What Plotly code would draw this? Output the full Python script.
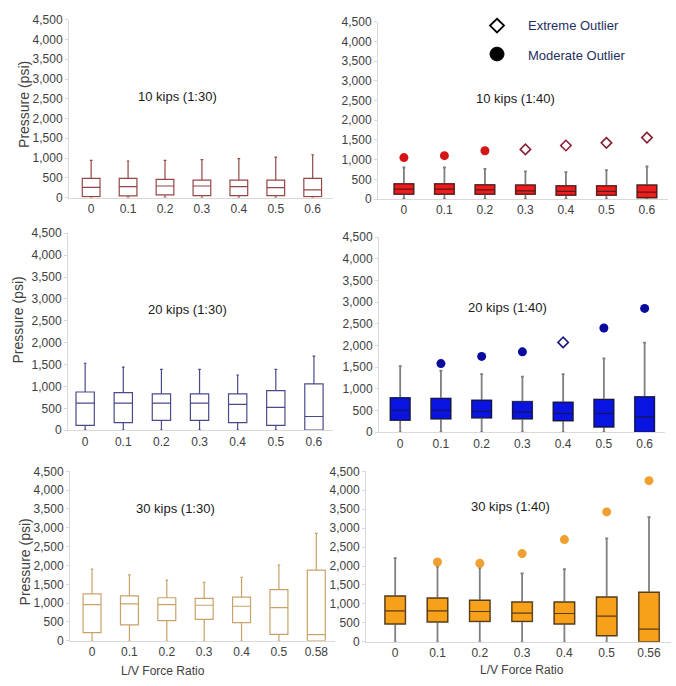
import plotly.graph_objects as go

# ---------------- data ----------------
cats_a = ["0", "0.1", "0.2", "0.3", "0.4", "0.5", "0.6"]
cats_30_130 = ["0", "0.1", "0.2", "0.3", "0.4", "0.5", "0.58"]
cats_30_140 = ["0", "0.1", "0.2", "0.3", "0.4", "0.5", "0.56"]

# 10 kips (1:30)
p1_upper = [942, 925, 942, 958, 983, 1025, 1083]
p1_q3 = [483, 483, 458, 442, 442, 442, 483]
p1_med = [258, 275, 292, 292, 275, 250, 192]
p1_q1 = [25, 42, 67, 50, 50, 50, 25]
p1_lower = [0, 0, 0, 0, 0, 0, 0]

# 10 kips (1:40)
p2_upper = [800, 800, 767, 700, 683, 733, 825]
p2_q3 = [383, 383, 358, 350, 333, 333, 350]
p2_med = [250, 250, 233, 208, 192, 192, 175]
p2_q1 = [125, 125, 125, 125, 100, 100, 33]
p2_lower = [0, 0, 0, 0, 0, 0, 0]
p2_mod_x = ["0", "0.1", "0.2"]
p2_mod_y = [1050, 1100, 1225]
p2_ext_x = ["0.3", "0.4", "0.5", "0.6"]
p2_ext_y = [1258, 1358, 1425, 1558]

# 20 kips (1:30)
p3_upper = [1530, 1440, 1388, 1388, 1261, 1388, 1694]
p3_q3 = [873, 858, 828, 828, 828, 903, 1060]
p3_med = [619, 619, 619, 619, 590, 522, 313]
p3_q1 = [112, 172, 224, 224, 172, 112, 0]
p3_lower = [0, 0, 0, 0, 0, 0, 0]

# 20 kips (1:40)
p4_upper = [1522, 1417, 1341, 1281, 1341, 1703, 2065]
p4_q3 = [791, 776, 731, 701, 686, 754, 814]
p4_med = [505, 505, 482, 467, 430, 430, 354]
p4_q1 = [279, 309, 332, 309, 264, 121, 0]
p4_lower = [0, 0, 0, 0, 0, 0, 0]
p4_mod_x = ["0.1", "0.2", "0.3", "0.5", "0.6"]
p4_mod_y = [1582, 1748, 1854, 2404, 2856]
p4_ext_x = ["0.4"]
p4_ext_y = [2072]

# 30 kips (1:30)
p5_upper = [1905, 1749, 1610, 1550, 1688, 2009, 2855]
p5_q3 = [1247, 1195, 1143, 1126, 1160, 1359, 1879]
p5_med = [961, 978, 961, 944, 918, 883, 164]
p5_q1 = [216, 424, 537, 571, 485, 173, 0]
p5_lower = [0, 0, 0, 0, 0, 0, 0]

# 30 kips (1:40)
p6_upper = [2208, 1985, 1950, 1804, 1916, 2732, 3290]
p6_q3 = [1203, 1151, 1091, 1048, 1048, 1177, 1306]
p6_med = [816, 816, 799, 756, 747, 679, 335]
p6_q1 = [472, 524, 541, 541, 472, 163, 0]
p6_lower = [0, 0, 0, 0, 0, 0, 0]
p6_mod_x = ["0.1", "0.2", "0.3", "0.4", "0.5", "0.56"]
p6_mod_y = [2105, 2070, 2328, 2698, 3428, 4253]

titles = ["10 kips (1:30)", "10 kips (1:40)", "20 kips (1:30)",
          "20 kips (1:40)", "30 kips (1:30)", "30 kips (1:40)"]
y_ticks = [0, 500, 1000, 1500, 2000, 2500, 3000, 3500, 4000, 4500]

# ---------------- layout helpers (reference pixel -> paper) ----------------
W, H = 676, 686


def fx(x):
    return min(max(x / W, 0), 1)


def fy(y):
    return min(max(1 - y / H, 0), 1)


FONT = "Liberation Sans, Arial, sans-serif"

panels = [
    dict(cats=cats_a, q1=p1_q1, med=p1_med, q3=p1_q3, lo=p1_lower, up=p1_upper,
         line="#944646", fill=None, whisk=None, box=(69, 333, 13, 194.5), xr=[-0.6, 6.55],
         title_xy=(177, 91)),
    dict(cats=cats_a, q1=p2_q1, med=p2_med, q3=p2_q3, lo=p2_lower, up=p2_upper,
         line="#5a1818", fill="#ee1c1c", whisk="#7f7f7f", box=(378, 668, 15, 196), xr=[-0.64, 6.52],
         title_xy=(515, 93)),
    dict(cats=cats_a, q1=p3_q1, med=p3_med, q3=p3_q3, lo=p3_lower, up=p3_upper,
         line="#4a4a8a", fill=None, whisk=None, box=(68, 333, 231, 432), xr=[-0.45, 6.5],
         title_xy=(188, 309)),
    dict(cats=cats_a, q1=p4_q1, med=p4_med, q3=p4_q3, lo=p4_lower, up=p4_upper,
         line="#14144a", fill="#0a14e0", whisk="#7f7f7f", box=(379, 665, 235, 434), xr=[-0.52, 6.5],
         title_xy=(508, 307)),
    dict(cats=cats_30_130, q1=p5_q1, med=p5_med, q3=p5_q3, lo=p5_lower, up=p5_upper,
         line="#c9a26a", fill=None, whisk=None, box=(70, 335, 474, 647), xr=[-0.59, 6.5],
         title_xy=(175, 512)),
    dict(cats=cats_30_140, q1=p6_q1, med=p6_med, q3=p6_q3, lo=p6_lower, up=p6_upper,
         line="#5a3c14", fill="#f7a11a", whisk="#7f7f7f", box=(366, 671, 474, 648), xr=[-0.69, 6.52],
         title_xy=(510, 510)),
]

fig = go.Figure()
layout = dict(
    width=W, height=H, margin=dict(l=0, r=0, t=0, b=0),
    paper_bgcolor="white", plot_bgcolor="white", showlegend=False,
    boxmode="overlay",
    font=dict(family=FONT, size=12, color="#404040"),
)
annotations = []


def ann(text, x, y, size, color, angle=0, xanchor="center", yanchor="middle"):
    annotations.append(dict(
        text=text, x=fx(x), y=fy(y), xref="paper", yref="paper",
        xanchor=xanchor, yanchor=yanchor, textangle=angle, showarrow=False,
        font=dict(size=size, color=color, family=FONT),
    ))


for i, p in enumerate(panels):
    n = "" if i == 0 else str(i + 1)
    xa, ya = "x" + n, "y" + n
    if p["whisk"] is None:
        fig.add_trace(go.Box(
            x=p["cats"], q1=p["q1"], median=p["med"], q3=p["q3"],
            lowerfence=p["lo"], upperfence=p["up"],
            fillcolor="rgba(255,255,255,0)", line=dict(color=p["line"], width=1.2),
            whiskerwidth=0.15, width=0.48, boxpoints=False, hoverinfo="y",
            xaxis=xa, yaxis=ya, name=titles[i],
        ))
    else:
        # grey whiskers
        fig.add_trace(go.Box(
            x=p["cats"], q1=p["q1"], median=p["med"], q3=p["q3"],
            lowerfence=p["lo"], upperfence=p["up"],
            fillcolor=p["fill"], line=dict(color=p["whisk"], width=1.8),
            whiskerwidth=0.15, width=0.48, boxpoints=False, hoverinfo="y",
            xaxis=xa, yaxis=ya, name=titles[i],
        ))
        # dark box outline + median on top
        fig.add_trace(go.Box(
            x=p["cats"], q1=p["q1"], median=p["med"], q3=p["q3"],
            lowerfence=p["q1"], upperfence=p["q3"],
            fillcolor=p["fill"], line=dict(color=p["line"], width=1.2),
            whiskerwidth=0, width=0.48, boxpoints=False, hoverinfo="skip",
            xaxis=xa, yaxis=ya, name=titles[i],
        ))
    l, r, t, b = p["box"]
    layout["xaxis" + n] = dict(
        domain=[fx(l), fx(r)], anchor=ya, type="category", range=p["xr"],
        showgrid=False, zeroline=False, showline=True, linecolor="#d9d9d9",
        ticks="", tickfont=dict(size=12, color="#404040"), fixedrange=True,
    )
    layout["yaxis" + n] = dict(
        domain=[fy(b), fy(t)], anchor=xa, range=[0, 4500], tickvals=y_ticks,
        tickformat=",", showgrid=False, zeroline=False, showline=True,
        linecolor="#d9d9d9", ticks="outside", ticklen=3, tickcolor="#d9d9d9",
        tickfont=dict(size=12, color="#404040"), fixedrange=True,
    )
    tx, ty = p["title_xy"]
    ann(titles[i], tx, ty, 13, "#1a1a1a")

# outliers
fig.add_trace(go.Scatter(x=p2_mod_x, y=p2_mod_y, mode="markers", xaxis="x2", yaxis="y2",
                         marker=dict(symbol="circle", size=9, color="#d41515"),
                         name="Moderate Outlier"))
fig.add_trace(go.Scatter(x=p2_ext_x, y=p2_ext_y, mode="markers", xaxis="x2", yaxis="y2",
                         marker=dict(symbol="diamond-open", size=8, color="#8a2035",
                                     line=dict(width=1.6)),
                         name="Extreme Outlier"))
fig.add_trace(go.Scatter(x=p4_mod_x, y=p4_mod_y, mode="markers", xaxis="x4", yaxis="y4",
                         marker=dict(symbol="circle", size=9, color="#0a0aa0"),
                         name="Moderate Outlier"))
fig.add_trace(go.Scatter(x=p4_ext_x, y=p4_ext_y, mode="markers", xaxis="x4", yaxis="y4",
                         marker=dict(symbol="diamond-open", size=8, color="#1a1a80",
                                     line=dict(width=1.6)),
                         name="Extreme Outlier"))
fig.add_trace(go.Scatter(x=p6_mod_x, y=p6_mod_y, mode="markers", xaxis="x6", yaxis="y6",
                         marker=dict(symbol="circle", size=9, color="#f0a030"),
                         name="Moderate Outlier"))

# y-axis titles (left column)
for (yx, yy) in [(24, 100), (18, 320), (25, 567)]:
    ann("Pressure (psi)", yx, yy, 14, "#404040", angle=-90)
# x-axis titles (bottom row)
for (xx, xy) in [(163, 678), (522, 677)]:
    ann("L/V Force Ratio", xx, xy, 12, "#404040")

# legend key (top right)
ann("Extreme Outlier", 526, 19, 13, "#1f3060", xanchor="left")
ann("Moderate Outlier", 526, 50, 13, "#1f3060", xanchor="left")
shapes = [
    dict(type="path", xref="paper", yref="paper",
         path="M {a},{b} L {c},{d} L {a},{e} L {f},{d} Z".format(
             a=fx(497), b=fy(12), c=fx(504), d=fy(19), e=fy(26), f=fx(490)),
         line=dict(color="black", width=1.8), fillcolor="white"),
    dict(type="circle", xref="paper", yref="paper",
         x0=fx(490), x1=fx(504), y0=fy(55), y1=fy(41),
         line=dict(color="black", width=1), fillcolor="black"),
]

layout["annotations"] = annotations
layout["shapes"] = shapes
fig.update_layout(**layout)

fig.write_html("out.html", config={"displayModeBar": False},
               post_script="document.body.style.margin='0';")
